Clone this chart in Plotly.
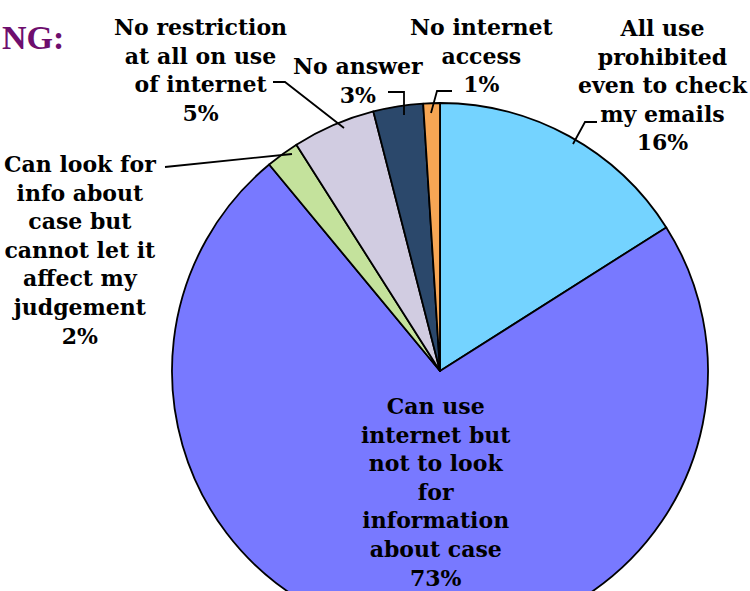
import plotly.graph_objects as go

# ---- data ----
categories = [
    "All use prohibited even to check my emails",
    "Can use internet but not to look for information about case",
    "Can look for info about case but cannot let it affect my judgement",
    "No restriction at all on use of internet",
    "No answer",
    "No internet access",
]
values = [16, 73, 2, 5, 3, 1]
label_lines = [
    ["All use", "prohibited", "even to check", "my emails"],
    ["Can use", "internet but", "not to look", "for", "information", "about case"],
    ["Can look for", "info about", "case but", "cannot let it", "affect my", "judgement"],
    ["No restriction", "at all on use", "of internet"],
    ["No answer"],
    ["No internet", "access"],
]
slice_colors = ["#74D3FF", "#7879FF", "#C4E29C", "#D1CCE1", "#2B486B", "#F7A654"]

# ---- layout helpers (pixel geometry) ----
W, H = 750, 650
def px(x):
    return x / W
def py(y):
    return 1 - y / H

cx, cy, r = 440, 371, 268

fig = go.Figure()
fig.add_trace(go.Pie(
    labels=categories,
    values=values,
    sort=False,
    direction="clockwise",
    rotation=0,
    textinfo="none",
    hoverinfo="label+percent",
    marker=dict(colors=slice_colors, line=dict(color="#000000", width=1.8)),
    domain=dict(x=[px(cx - r), px(cx + r)], y=[py(cy + r), py(cy - r)]),
    showlegend=False,
))

# label positions (block centres, px)
label_pos = [(663, 85), (436, 492), (80, 250), (200, 70), (358, 80), (482, 55)]
font = dict(family="DejaVu Serif", size=22, color="#000000")
for lines, v, (x, y) in zip(label_lines, values, label_pos):
    txt = "<br>".join(lines + [f"{v}%"])
    fig.add_annotation(
        x=px(x), y=py(y), xref="paper", yref="paper",
        text=f"<b>{txt}</b>", showarrow=False, align="center",
        xanchor="center", yanchor="middle", font=font,
    )

# leader lines (px)
leaders = [
    [(597, 122), (585, 122), (573, 144)],
    [(165, 167), (292, 154)],
    [(273, 82), (285, 82), (344, 128)],
    [(388, 92), (404, 92), (404, 115)],
    [(452, 91), (437, 91), (431, 113)],
]
for pts in leaders:
    path = "M " + " L ".join(f"{px(a):.5f},{py(b):.5f}" for a, b in pts)
    fig.add_shape(type="path", path=path, xref="paper", yref="paper",
                  line=dict(color="#000000", width=1.8))

fig.add_annotation(
    x=px(0), y=py(37), xref="paper", yref="paper", text="<b>NG:</b>",
    showarrow=False, xanchor="left", yanchor="middle",
    font=dict(family="Liberation Serif", size=34, color="#6E0E6E"),
)

fig.update_layout(
    width=W, height=H,
    margin=dict(l=0, r=0, t=0, b=0),
    paper_bgcolor="#FFFFFF", plot_bgcolor="#FFFFFF",
)

fig.write_html(
    "out.html",
    config={"displayModeBar": False},
    post_script="document.body.style.margin='0';document.body.style.overflow='hidden';",
)
